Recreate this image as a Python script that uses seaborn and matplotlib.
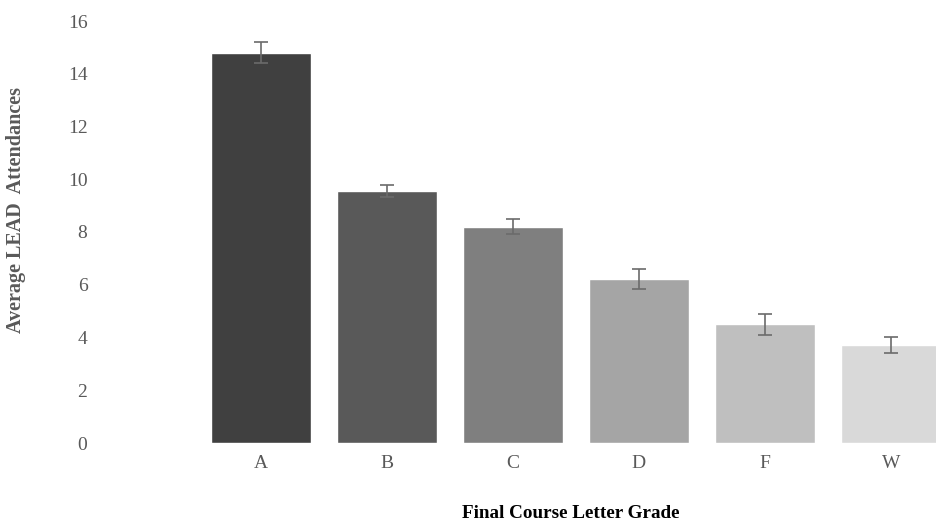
import matplotlib
matplotlib.use("Agg")
from matplotlib import pyplot as plt
import seaborn as sns
import pandas as pd

grades = ["A", "B", "C", "D", "F", "W"]
means = [14.8, 9.55, 8.2, 6.2, 4.5, 3.72]
errors = [0.4, 0.22, 0.28, 0.38, 0.4, 0.3]
colors = ["#404040", "#595959", "#7f7f7f", "#a5a5a5", "#bfbfbf", "#d9d9d9"]

df = pd.DataFrame({"grade": grades, "mean": means, "err": errors})

sns.set_style("white")
plt.rcParams["font.family"] = ["Liberation Serif", "DejaVu Serif"]

fig = plt.figure(figsize=(9.36, 5.23), dpi=100)
ax = fig.add_axes([100 / 936, 80 / 523, 836 / 936, 422 / 523])

sns.barplot(data=df, x="grade", y="mean", hue="grade", palette=colors,
            legend=False, width=0.79, ax=ax, saturation=1)
ax.errorbar(x=range(len(grades)), y=df["mean"], yerr=df["err"], fmt="none",
            ecolor="#6b6b6b", elinewidth=1.2, capsize=5, capthick=1.2)

ax.set_ylim(0, 16)
ax.set_xlim(-1.28, 5.36)
ax.set_yticks(range(0, 17, 2))
for s in ax.spines.values():
    s.set_visible(False)
ax.tick_params(axis="both", length=0, labelsize=14, colors="#595959")
ax.tick_params(axis="y", pad=9)
ax.tick_params(axis="x", pad=9)

ax.set_xlabel("Final Course Letter Grade", fontsize=13.8, fontweight="bold", color="black")
ax.xaxis.set_label_coords((571 - 100) / 836, -0.146)
ax.set_ylabel("Average LEAD  Attendances", fontsize=14.5, fontweight="bold", color="#595959")
ax.yaxis.set_label_coords((26 - 100) / 836, 0.553)

fig.savefig("out.png", dpi=100)
plt.close(fig)
